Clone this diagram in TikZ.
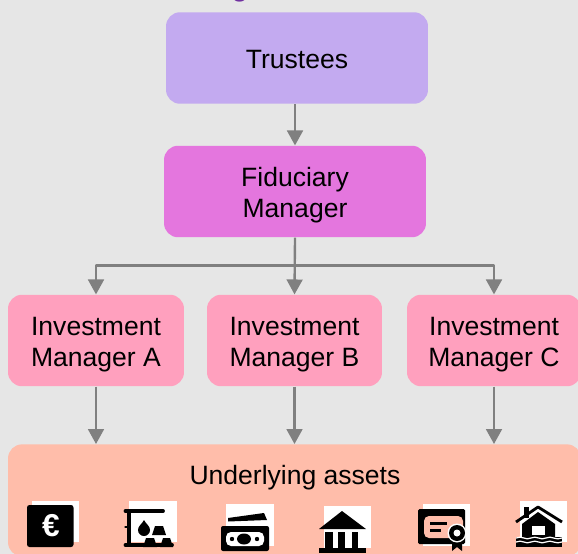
\documentclass[tikz,border=0pt]{standalone}
\usepackage{fontspec}
\setmainfont{Liberation Sans}
\usepackage[usenames, table, x11names]{xcolor}
\usetikzlibrary{arrows.meta,calc}
\definecolor{bgGrey}{RGB}{230,230,230}
\definecolor{trusteeFill}{RGB}{195,170,240}
\definecolor{fiduciaryFill}{RGB}{228,118,222}
\definecolor{managerFill}{RGB}{255,160,190}
\definecolor{assetFill}{RGB}{255,189,170}
\definecolor{titlePurple}{RGB}{112,48,160}
\definecolor{arrowGrey}{RGB}{128,128,128}
\newcommand{\liftTwo}{\rule{0pt}{15.5pt}}
\newcommand{\liftOne}{\rule{0pt}{12.6pt}}
\tikzset{>={Triangle[width=9pt,length=8.5pt]}}
\tikzset{
	box/.style={rectangle,rounded corners=0.28cm,inner sep=0pt,align=center,
		minimum height=1.83cm,font=\fontsize{15.1}{17.6}\selectfont},
	manager/.style={box,fill=managerFill},
	link/.style={draw=arrowGrey,line width=1.35pt},
	backing/.style={fill=white},
	ink/.style={fill=black,draw=none},
	paper/.style={fill=assetFill,draw=none}
}
\begin{document}
\begin{tikzpicture}[line cap=butt,line join=round,x=0.02cm,y=-0.02cm]
			\clip (0,0) rectangle (578,554);
			\fill[bgGrey] (0,0) rectangle (578,554);
			\node[font=\bfseries\fontsize{15}{17.6}\selectfont,text=titlePurple,anchor=base,inner sep=0pt] (title) at (240,-3) {g};
			\node[box,fill=trusteeFill,minimum width=5.24cm] (trustees) at (297,58) {\liftOne Trustees};
			\node[box,fill=fiduciaryFill,minimum width=5.24cm] (fiduciary) at (295,191.5) {\liftTwo Fiduciary\\Manager};
			\node[manager,minimum width=3.52cm] (managerA) at (96,340.5) {\liftTwo Investment\\Manager A};
			\node[manager,minimum width=3.5cm] (managerB) at (294.5,340.5) {\liftTwo Investment\\Manager B};
			\node[manager,minimum width=3.48cm] (managerC) at (494,340.5) {\liftTwo Investment\\Manager C};
			\node[box,fill=assetFill,minimum width=11.46cm,minimum height=2.24cm,anchor=north] (assets) at (294.5,444) {};
			\node[font=\fontsize{15.1}{17.6}\selectfont] (assetsLabel) at (295,478) {Underlying assets};
			% connectors
			\draw[link,->] (trustees.south -| fiduciary) -- (fiduciary.north);
			\draw[link,->] (fiduciary.south) -- (managerB.north);
			\coordinate (branch) at (295,265.5);
			\draw[link,->] (branch) -- (branch -| managerA) -- (managerA.north);
			\draw[link,->] (branch) -- (branch -| managerC) -- (managerC.north);
			\draw[link,->] (managerA.south) -- (managerA.south |- assets.north);
			\draw[link,->] (managerB.south) -- (managerB.south |- assets.north);
			\draw[link,->] (managerC.south) -- (managerC.south |- assets.north);
			% euro
			\fill[backing] (32,501) rectangle (79,542);
			\fill[ink,rounded corners=0.05cm] (27,505) rectangle (73.5,547);
			\node[text=white,font=\bfseries\fontsize{18}{18}\selectfont,inner sep=0pt] (euro) at (51,526) {€};
			% commodities
			\fill[backing] (129,501) rectangle (177,542);
			\draw[line width=2.2pt,line cap=round] (125.5,511) -- (163,511);
			\draw[line width=2.2pt] (129,511) -- (129,546);
			\draw[line width=1.6pt,line cap=round] (125.5,527) -- (129,527);
			\draw[line width=2.2pt,line cap=round] (125.5,545) -- (172,545);
			\fill[ink] (144,520) .. controls (146,524) and (150,526) .. (150,530) arc (0:180:6) .. controls (138,526) and (142,524) .. (144,520) -- cycle;
			\fill[ink] (155,526) -- (163,526) -- (166,535) -- (152,535) -- cycle;
			\fill[ink] (146,538) -- (154,538) -- (157,547) -- (143,547) -- cycle;
			\fill[ink] (163,538) -- (170,538) -- (173,547) -- (160,547) -- cycle;
			% banknotes
			\fill[backing] (226,504) rectangle (274,546);
			\fill[ink] (228,518) -- (264,513) -- (267,520) -- (228,521.5) -- cycle;
			\fill[ink,rounded corners=0.04cm] (221,526) rectangle (269,551);
			\fill[white,rounded corners=0.1cm] (226,532) rectangle (264,546);
			\fill[ink] (244,539) ellipse (7 and 5.5);
			\fill[ink] (232,539) circle (2.2);
			\fill[ink] (257,539) circle (2.2);
			% bank
			\fill[backing] (324,506) rectangle (371,548);
			\fill[ink] (342,511) -- (366,529) -- (319,529) -- cycle;
			\fill[ink] (325,532) rectangle (333,548);
			\fill[ink] (338,532) rectangle (345,548);
			\fill[ink] (352,532) rectangle (358,548);
			\fill[ink] (319,548) rectangle (366,553);
			% certificate
			\fill[backing] (423,504) rectangle (470,546);
			\fill[ink,rounded corners=0.03cm] (418,509) rectangle (465,544);
			\fill[paper,rounded corners=0.1cm] (424,516) -- (463,516) -- (463,538) -- (424,538) -- cycle;
			\fill[ink] (430,522) rectangle (447,525);
			\fill[ink] (430,529) rectangle (441,532);
			\fill[ink] (452,538) -- (452,551) -- (457,547) -- (462,551) -- (462,538) -- cycle;
			\fill[white] (457,533) circle (9.5);
			\fill[ink] (457,533) circle (8);
			\fill[white] (457,533) circle (3.5);
			% flooded house
			\fill[backing] (520,501) rectangle (567,542);
			\fill[ink] (524,507) rectangle (529,518);
			\fill[ink] (538,512) -- (555,524) -- (555,537) -- (522,537) -- (522,524) -- cycle;
			\draw[line width=1.6pt] (516,522) -- (538,507) -- (562,522);
			\fill[white] (532,526) rectangle (545,535);
			\fill[ink] (516,537) rectangle (562,547);
			\draw[white,line width=0.7pt] (516,538) .. controls (522,535) and (526,541) .. (531,538) .. controls (536,535) and (541,541) .. (546,538) .. controls (551,535) and (556,541) .. (562,538);
			\draw[white,line width=0.7pt] (516,542) .. controls (522,539) and (526,545) .. (531,542) .. controls (536,539) and (541,545) .. (546,542) .. controls (551,539) and (556,545) .. (562,542);
			\end{tikzpicture}
\end{document}
